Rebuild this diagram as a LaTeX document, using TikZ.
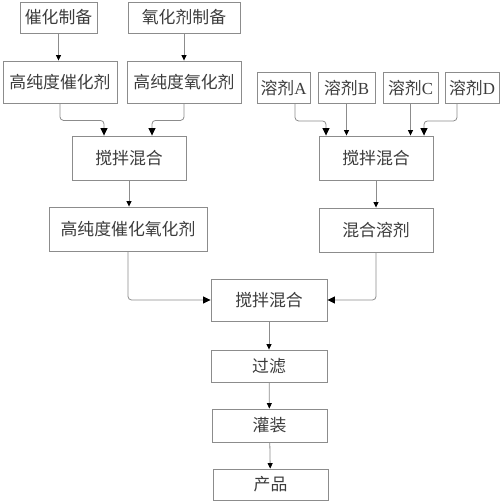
\documentclass[tikz,border=0pt]{standalone}
\usepackage{fontspec}
\setmainfont{Liberation Serif}
\newfontfamily\cjk{Noto Sans CJK SC}
\usepackage{xcolor}
\usepackage{tikz}
\usetikzlibrary{arrows.meta, positioning, calc}
\definecolor{fcLine}{RGB}{140,140,140}
\definecolor{fcText}{RGB}{60,60,60}

\begin{document}
\begin{tikzpicture}[
    x=0.2mm, y=-0.2mm,
    font=\cjk\fontsize{9.6}{11}\selectfont, text=fcText,
    box/.style={draw=fcLine, line width=0.5pt, align=center, inner sep=0pt,
                minimum width=22.8mm, minimum height=8.8mm},
    slim/.style={box, minimum height=6.2mm},
    arr/.style={-{Triangle[length=1.1mm, width=1.0mm, color=black]},
                line width=0.45pt, draw=fcLine, rounded corners=2pt},
    bent/.style={arr, -{Triangle[length=1.5mm, width=1.4mm, color=black]}}
]
\useasboundingbox (0,0) rectangle (500,502);

% Upper left: catalyst and oxidant branches
\node[slim, minimum width=15.4mm] (prepA) at (58.5,17.5) {催化制备};
\node[slim, minimum width=22.4mm] (prepB) at (184,17.5) {氧化剂制备};
\node[box, minimum height=8.4mm] (pureA) at (60,82) {高纯度催化剂};
\node[box, minimum height=8.4mm] (pureB) at (184,82) {高纯度氧化剂};
\node[box] (mixL) at (129,158) {搅拌混合};
\node[box, minimum width=31.6mm] (catox) at (128,229) {高纯度催化氧化剂};

% Upper right: four solvents
\node[slim, minimum width=10.6mm] (solA) at (283.5,88) {溶剂{\rmfamily A}};
\node[slim, minimum width=11.4mm] (solB) at (346.5,88) {溶剂{\rmfamily B}};
\node[slim, minimum width=11.0mm] (solC) at (410.5,88) {溶剂{\rmfamily C}};
\node[slim, minimum width=10.8mm] (solD) at (472,88) {溶剂{\rmfamily D}};
\node[box] (mixR) at (376,158) {搅拌混合};
\node[box] (solv) at (376,230) {混合溶剂};

% Lower middle: final chain
\node[box, minimum width=23.2mm, minimum height=8.4mm] (mixC) at (269,300) {搅拌混合};
\node[slim, minimum width=23.2mm, minimum height=6.4mm] (filt) at (269,366) {过滤};
\node[slim, minimum width=23mm, minimum height=6.6mm] (fill) at (269.5,425.5) {灌装};
\node[slim, minimum width=23mm] (prod) at (270.5,484.5) {产品};

% Left branch arrows
\draw[arr] (prepA) -- (prepA |- pureA.north);
\draw[arr] (prepB) -- (prepB |- pureB.north);
\draw[bent] (pureA.south) -- ++(0,17) -| ($(mixL.north)+(-25,0)$);
\draw[bent] (pureB.south) -- ++(0,17) -| ($(mixL.north)+(23,0)$);
\draw[arr] (mixL) -- (mixL |- catox.north);

% Right branch arrows
\draw[bent] ($(solA.south)+(11.5,0)$) -- ++(0,17) -| ($(mixR.north)+(-50,0)$);
\draw[arr] (solB) -- (solB |- mixR.north);
\draw[arr] (solC) -- (solC |- mixR.north);
\draw[bent] ($(solD.south)+(-15,0)$) -- ++(0,17) -| ($(mixR.north)+(48,0)$);
\draw[arr] (mixR) -- (solv);

% Join and final chain
\draw[bent] (catox.south) |- (mixC.west);
\draw[bent] (solv.south) |- (mixC.east);
\draw[arr] (mixC) -- (filt);
\draw[arr] (filt) -- (fill);
\draw[arr] (fill) -- (prod);

\end{tikzpicture}
\end{document}
